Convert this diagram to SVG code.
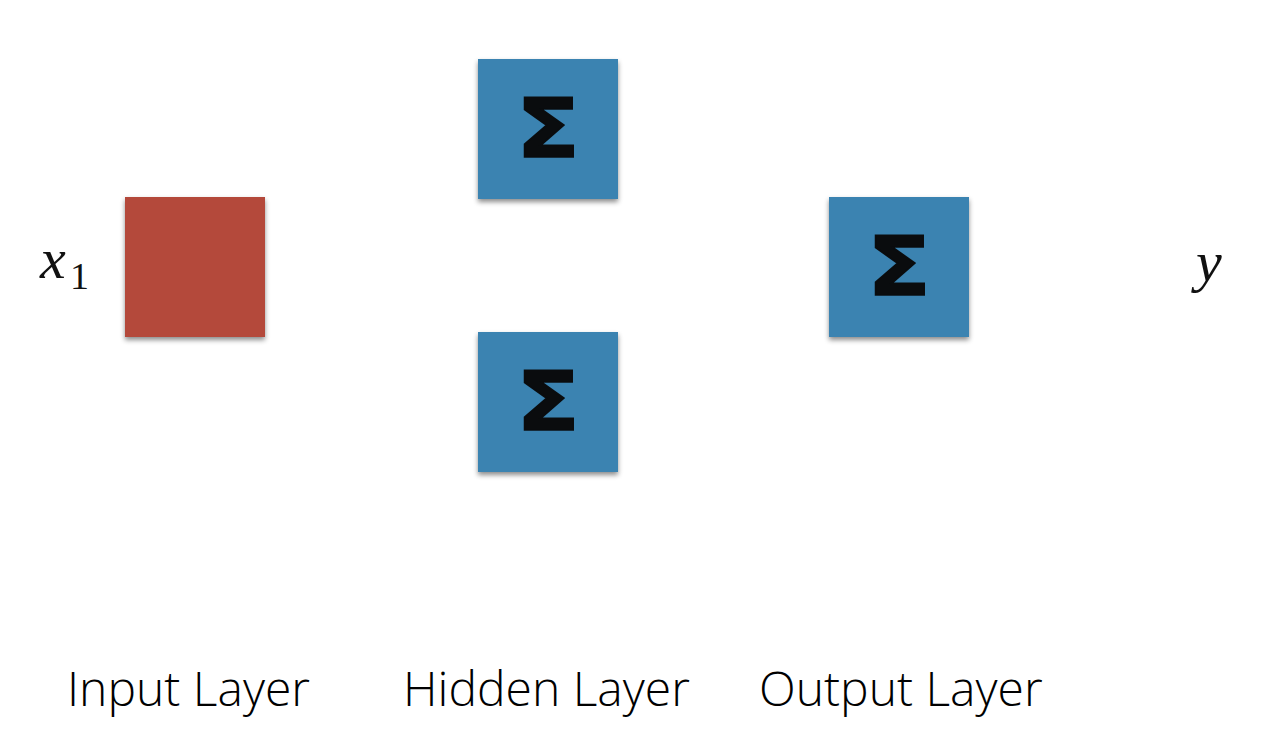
<svg xmlns="http://www.w3.org/2000/svg" width="1286" height="748" viewBox="0 0 1286 748">
<style>
.red{fill:#b4493a}
.blue{fill:#3a83b1}
.sig{font-family:"DejaVu Sans",sans-serif;font-weight:bold;font-size:82px;fill:#0a0c0e;text-anchor:middle;stroke:#0a0c0e;stroke-width:1.5}
.lbl{font-family:"Open Sans","Liberation Sans",sans-serif;font-weight:300;font-size:48px;fill:#000}
.math{font-family:"Liberation Serif",serif;fill:#111}
</style>
<defs>
<filter id="sh" x="-10%" y="-10%" width="120%" height="125%">
<feDropShadow dx="0" dy="3" stdDeviation="2.5" flood-color="#000" flood-opacity="0.45"/>
</filter>
</defs>
<g id="connectors"></g>
<g id="input">
<rect class="red" x="125" y="197" width="140" height="140" filter="url(#sh)"/>
</g>
<g id="hidden1">
<rect class="blue" x="478" y="59" width="140" height="140" filter="url(#sh)"/>
<text class="sig" x="548" y="157" textLength="64" lengthAdjust="spacingAndGlyphs">Σ</text>
</g>
<g id="hidden2">
<rect class="blue" x="478" y="332" width="140" height="140" filter="url(#sh)"/>
<text class="sig" x="548" y="430" textLength="64" lengthAdjust="spacingAndGlyphs">Σ</text>
</g>
<g id="output">
<rect class="blue" x="829" y="197" width="140" height="140" filter="url(#sh)"/>
<text class="sig" x="899" y="295" textLength="64" lengthAdjust="spacingAndGlyphs">Σ</text>
</g>
<g id="x1">
<text class="math" x="40" y="278" font-size="58" font-style="italic">x</text>
<text class="math" x="70" y="289" font-size="38">1</text>
</g>
<g id="y">
<text class="math" x="1196" y="281" font-size="58" font-style="italic">y</text>
</g>
<g id="labels">
<text class="lbl" x="67" y="706">Input Layer</text>
<text class="lbl" x="403" y="706">Hidden Layer</text>
<text class="lbl" x="759" y="706">Output Layer</text>
</g>
</svg>
